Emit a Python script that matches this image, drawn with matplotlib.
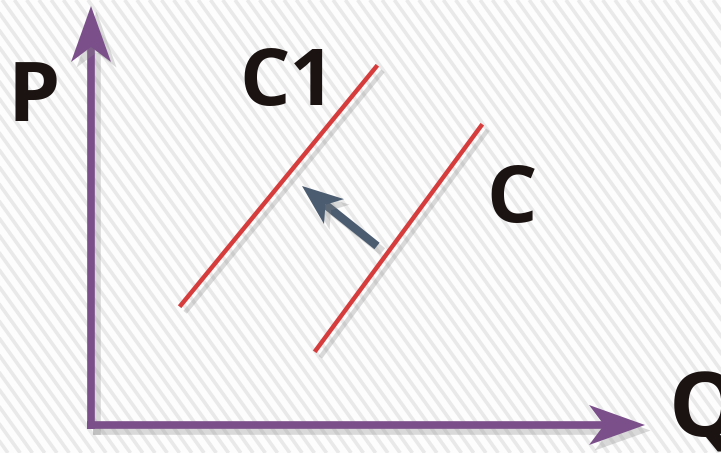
import numpy as np
import matplotlib
matplotlib.use("Agg")
import matplotlib.pyplot as plt
import matplotlib.patheffects as pe
from matplotlib.patches import Polygon

# chart units: origin at the corner of the axes, one unit ~ one pixel
axis_x_end = 554
axis_y_end = 419

c1_x = [90, 285]
c1_y = [120, 358]
c_x = [225, 390]
c_y = [75, 299]

shift_from = (286, 179)
shift_to = (211, 239)

labels = ["P", "Q", "C1", "C"]
label_x = [-57, 614, 196, 421]
label_y = [304, -11, 320, 203]
label_size = [60, 65, 57, 57]

purple = "#7b4f8a"
red = "#d63c3c"
slate = "#4b5b70"

fig = plt.figure(figsize=(7.21, 4.53), dpi=100)
ax = fig.add_axes([0, 0, 1, 1])
ax.set_xlim(-91, 630)
ax.set_ylim(-28, 425)
ax.axis("off")
fig.patch.set_facecolor("#fdfdfd")

# diagonal stripe background
for k in np.arange(-1.0, 2.2, 0.017):
    ax.plot([k, k + 0.45], [1, 0], transform=ax.transAxes,
            color="#e9e9e9", lw=2.6, zorder=0, solid_capstyle="butt")

line_shadow = [pe.SimpleLineShadow(offset=(4, -4), shadow_color="#888888", alpha=0.3), pe.Normal()]
patch_shadow = [pe.SimplePatchShadow(offset=(4, -4), shadow_rgbFace="#888888", alpha=0.3), pe.Normal()]


def barbed_arrow(start, tip, color, lw, head_len, half_w, notch):
    start = np.array(start, float)
    tip = np.array(tip, float)
    d = (tip - start) / np.hypot(*(tip - start))
    n = np.array([-d[1], d[0]])
    back = tip - d * head_len
    inner = tip - d * notch
    ax.plot([start[0], inner[0]], [start[1], inner[1]], color=color, lw=lw,
            solid_capstyle="butt", zorder=3, path_effects=line_shadow)
    head = Polygon([tip, back + n * half_w, inner, back - n * half_w],
                   closed=True, facecolor=color, edgecolor="none", zorder=3)
    head.set_path_effects(patch_shadow)
    ax.add_patch(head)


# P and Q axes
barbed_arrow((0, -4), (0, axis_y_end), purple, 5.5, 56, 20, 41)
barbed_arrow((-4, 0), (axis_x_end, 0), purple, 5.5, 56, 20, 41)

# supply curves
ax.plot(c1_x, c1_y, color=red, lw=3.2, zorder=2, path_effects=line_shadow)
ax.plot(c_x, c_y, color=red, lw=3.2, zorder=2, path_effects=line_shadow)

# shift arrow
barbed_arrow(shift_from, shift_to, slate, 6, 41, 16, 30)

for t, x, y, s in zip(labels, label_x, label_y, label_size):
    ax.text(x, y, t, fontsize=s, fontweight="bold", family="Open Sans",
            color="#1a1311", ha="center", va="baseline", zorder=4)

fig.savefig("out.png", dpi=100, facecolor=fig.get_facecolor())
